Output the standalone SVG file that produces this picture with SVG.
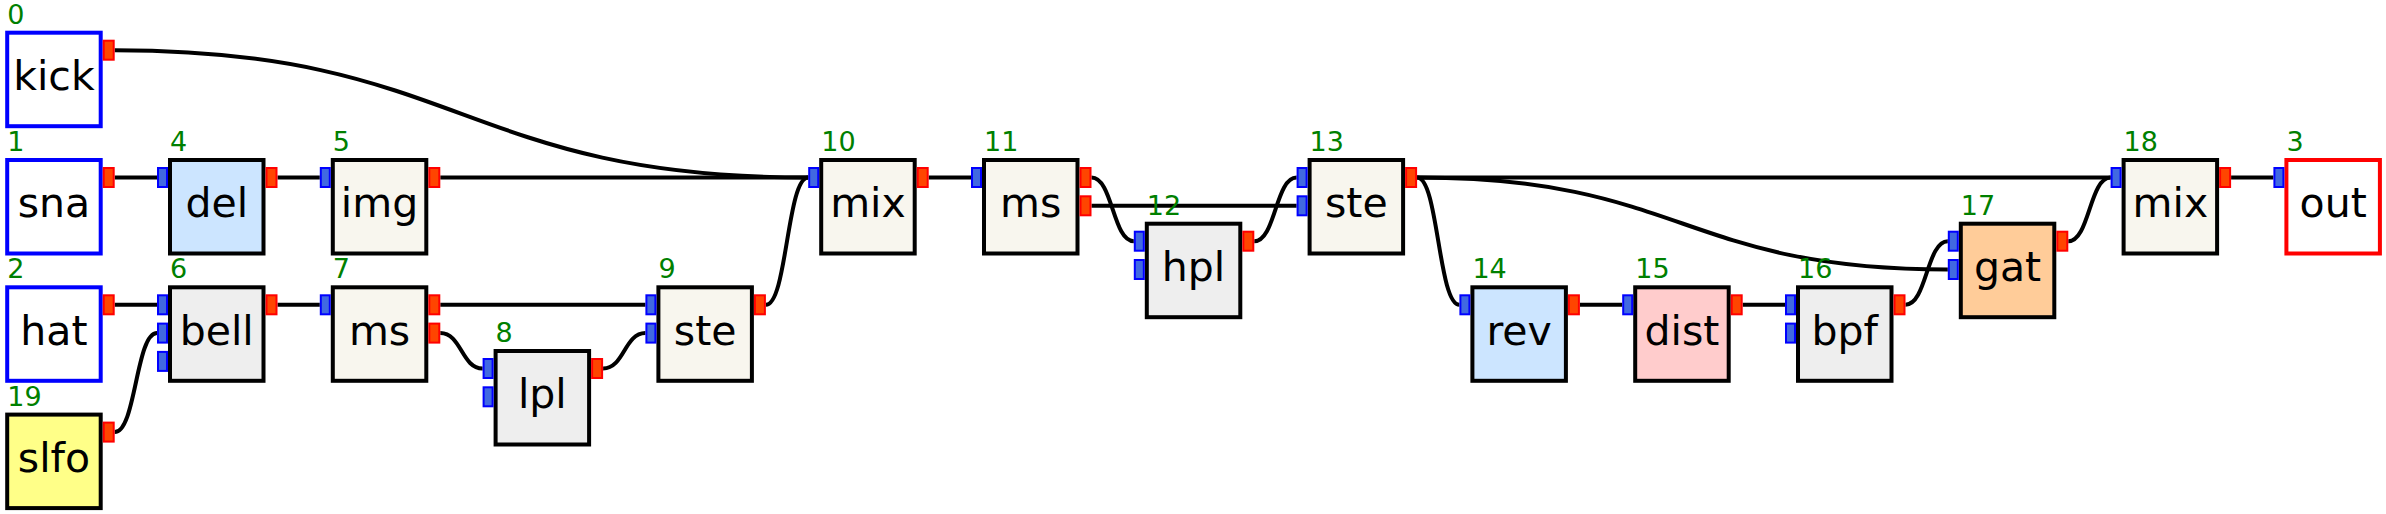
<svg xmlns="http://www.w3.org/2000/svg" width="2386" height="514" viewBox="0 0 2386 514">
<style>
.bg{fill:#ffffff}
.box{stroke:#000000;stroke-width:4}
.src{fill:#ffffff;stroke:#0000ff;stroke-width:4}
.sink{fill:#ffffff;stroke:#ff0000;stroke-width:4}
.beige{fill:#f8f6ee}
.gray{fill:#eeeeee}
.blue{fill:#cce5ff}
.yellow{fill:#ffff88}
.pink{fill:#ffcccc}
.orange{fill:#ffcc99}
.pin{fill:#4169e1;stroke:#0000ff;stroke-width:2}
.pout{fill:#ff4500;stroke:#ff0000;stroke-width:2}
.lbl{font-family:"DejaVu Sans","Liberation Sans",sans-serif;font-size:41px;fill:#000000;text-anchor:middle}
.num{font-family:"DejaVu Sans","Liberation Sans",sans-serif;font-size:27px;fill:#008000}
.wire{fill:none;stroke:#000000;stroke-width:4}
</style>
<rect class="bg" x="0" y="0" width="2386" height="514"/>
<g id="connectors">
<path class="wire" d="M114.7 50.2 C461.5 50.2 461.5 177.5 808.2 177.5"/>
<path class="wire" d="M114.7 177.5 H157"/>
<path class="wire" d="M277.5 177.5 H319.8"/>
<path class="wire" d="M440.3 177.5 H808.2"/>
<path class="wire" d="M114.7 304.8 H157"/>
<path class="wire" d="M114.7 432.1 C135.9 432.1 135.9 333.1 157 333.1"/>
<path class="wire" d="M277.5 304.8 H319.8"/>
<path class="wire" d="M440.3 304.8 H645.4"/>
<path class="wire" d="M440.3 333.1 C461.5 333.1 461.5 368.5 482.6 368.5"/>
<path class="wire" d="M603.1 368.5 C624.3 368.5 624.3 333.1 645.4 333.1"/>
<path class="wire" d="M765.9 304.8 C787 304.8 787 177.5 808.2 177.5"/>
<path class="wire" d="M928.7 177.5 H971"/>
<path class="wire" d="M1091.5 177.5 C1112.7 177.5 1112.7 241.2 1133.8 241.2"/>
<path class="wire" d="M1091.5 205.8 H1296.6"/>
<path class="wire" d="M1254.3 241.2 C1275.5 241.2 1275.5 177.5 1296.6 177.5"/>
<path class="wire" d="M1417.1 177.5 H2110.6"/>
<path class="wire" d="M1417.1 177.5 C1438.3 177.5 1438.3 304.8 1459.4 304.8"/>
<path class="wire" d="M1417.1 177.5 C1682.5 177.5 1682.5 269.5 1947.8 269.5"/>
<path class="wire" d="M1579.9 304.8 H1622.2"/>
<path class="wire" d="M1742.7 304.8 H1785"/>
<path class="wire" d="M1905.5 304.8 C1926.7 304.8 1926.7 241.2 1947.8 241.2"/>
<path class="wire" d="M2068.3 241.2 C2089.5 241.2 2089.5 177.5 2110.6 177.5"/>
<path class="wire" d="M2231.1 177.5 H2273.4"/>
</g>
<g id="n0" transform="translate(5.2,30.7)">
<rect class="src" x="2" y="2" width="93.5" height="93.5"/>
<rect class="pout" x="98.5" y="10" width="10" height="19"/>
<text class="lbl" x="48.75" y="59.3">kick</text>
<text class="num" x="2" y="-7">0</text>
</g>
<g id="n1" transform="translate(5.2,158)">
<rect class="src" x="2" y="2" width="93.5" height="93.5"/>
<rect class="pout" x="98.5" y="10" width="10" height="19"/>
<text class="lbl" x="48.75" y="59.3">sna</text>
<text class="num" x="2" y="-7">1</text>
</g>
<g id="n2" transform="translate(5.2,285.3)">
<rect class="src" x="2" y="2" width="93.5" height="93.5"/>
<rect class="pout" x="98.5" y="10" width="10" height="19"/>
<text class="lbl" x="48.75" y="59.3">hat</text>
<text class="num" x="2" y="-7">2</text>
</g>
<g id="n19" transform="translate(5.2,412.6)">
<rect class="box yellow" x="2" y="2" width="93.5" height="93.5"/>
<rect class="pout" x="98.5" y="10" width="10" height="19"/>
<text class="lbl" x="48.75" y="59.3">slfo</text>
<text class="num" x="2" y="-7">19</text>
</g>
<g id="n4" transform="translate(168,158)">
<rect class="box blue" x="2" y="2" width="93.5" height="93.5"/>
<rect class="pin" x="-10" y="10" width="9" height="19"/>
<rect class="pout" x="98.5" y="10" width="10" height="19"/>
<text class="lbl" x="48.75" y="59.3">del</text>
<text class="num" x="2" y="-7">4</text>
</g>
<g id="n6" transform="translate(168,285.3)">
<rect class="box gray" x="2" y="2" width="93.5" height="93.5"/>
<rect class="pin" x="-10" y="10" width="9" height="19"/>
<rect class="pin" x="-10" y="38.3" width="9" height="19"/>
<rect class="pin" x="-10" y="66.6" width="9" height="19"/>
<rect class="pout" x="98.5" y="10" width="10" height="19"/>
<text class="lbl" x="48.75" y="59.3">bell</text>
<text class="num" x="2" y="-7">6</text>
</g>
<g id="n5" transform="translate(330.8,158)">
<rect class="box beige" x="2" y="2" width="93.5" height="93.5"/>
<rect class="pin" x="-10" y="10" width="9" height="19"/>
<rect class="pout" x="98.5" y="10" width="10" height="19"/>
<text class="lbl" x="48.75" y="59.3">img</text>
<text class="num" x="2" y="-7">5</text>
</g>
<g id="n7" transform="translate(330.8,285.3)">
<rect class="box beige" x="2" y="2" width="93.5" height="93.5"/>
<rect class="pin" x="-10" y="10" width="9" height="19"/>
<rect class="pout" x="98.5" y="10" width="10" height="19"/>
<rect class="pout" x="98.5" y="38.3" width="10" height="19"/>
<text class="lbl" x="48.75" y="59.3">ms</text>
<text class="num" x="2" y="-7">7</text>
</g>
<g id="n8" transform="translate(493.6,349)">
<rect class="box gray" x="2" y="2" width="93.5" height="93.5"/>
<rect class="pin" x="-10" y="10" width="9" height="19"/>
<rect class="pin" x="-10" y="38.3" width="9" height="19"/>
<rect class="pout" x="98.5" y="10" width="10" height="19"/>
<text class="lbl" x="48.75" y="59.3">lpl</text>
<text class="num" x="2" y="-7">8</text>
</g>
<g id="n9" transform="translate(656.4,285.3)">
<rect class="box beige" x="2" y="2" width="93.5" height="93.5"/>
<rect class="pin" x="-10" y="10" width="9" height="19"/>
<rect class="pin" x="-10" y="38.3" width="9" height="19"/>
<rect class="pout" x="98.5" y="10" width="10" height="19"/>
<text class="lbl" x="48.75" y="59.3">ste</text>
<text class="num" x="2" y="-7">9</text>
</g>
<g id="n10" transform="translate(819.2,158)">
<rect class="box beige" x="2" y="2" width="93.5" height="93.5"/>
<rect class="pin" x="-10" y="10" width="9" height="19"/>
<rect class="pout" x="98.5" y="10" width="10" height="19"/>
<text class="lbl" x="48.75" y="59.3">mix</text>
<text class="num" x="2" y="-7">10</text>
</g>
<g id="n11" transform="translate(982,158)">
<rect class="box beige" x="2" y="2" width="93.5" height="93.5"/>
<rect class="pin" x="-10" y="10" width="9" height="19"/>
<rect class="pout" x="98.5" y="10" width="10" height="19"/>
<rect class="pout" x="98.5" y="38.3" width="10" height="19"/>
<text class="lbl" x="48.75" y="59.3">ms</text>
<text class="num" x="2" y="-7">11</text>
</g>
<g id="n12" transform="translate(1144.8,221.7)">
<rect class="box gray" x="2" y="2" width="93.5" height="93.5"/>
<rect class="pin" x="-10" y="10" width="9" height="19"/>
<rect class="pin" x="-10" y="38.3" width="9" height="19"/>
<rect class="pout" x="98.5" y="10" width="10" height="19"/>
<text class="lbl" x="48.75" y="59.3">hpl</text>
<text class="num" x="2" y="-7">12</text>
</g>
<g id="n13" transform="translate(1307.6,158)">
<rect class="box beige" x="2" y="2" width="93.5" height="93.5"/>
<rect class="pin" x="-10" y="10" width="9" height="19"/>
<rect class="pin" x="-10" y="38.3" width="9" height="19"/>
<rect class="pout" x="98.5" y="10" width="10" height="19"/>
<text class="lbl" x="48.75" y="59.3">ste</text>
<text class="num" x="2" y="-7">13</text>
</g>
<g id="n14" transform="translate(1470.4,285.3)">
<rect class="box blue" x="2" y="2" width="93.5" height="93.5"/>
<rect class="pin" x="-10" y="10" width="9" height="19"/>
<rect class="pout" x="98.5" y="10" width="10" height="19"/>
<text class="lbl" x="48.75" y="59.3">rev</text>
<text class="num" x="2" y="-7">14</text>
</g>
<g id="n15" transform="translate(1633.2,285.3)">
<rect class="box pink" x="2" y="2" width="93.5" height="93.5"/>
<rect class="pin" x="-10" y="10" width="9" height="19"/>
<rect class="pout" x="98.5" y="10" width="10" height="19"/>
<text class="lbl" x="48.75" y="59.3">dist</text>
<text class="num" x="2" y="-7">15</text>
</g>
<g id="n16" transform="translate(1796,285.3)">
<rect class="box gray" x="2" y="2" width="93.5" height="93.5"/>
<rect class="pin" x="-10" y="10" width="9" height="19"/>
<rect class="pin" x="-10" y="38.3" width="9" height="19"/>
<rect class="pout" x="98.5" y="10" width="10" height="19"/>
<text class="lbl" x="48.75" y="59.3">bpf</text>
<text class="num" x="2" y="-7">16</text>
</g>
<g id="n17" transform="translate(1958.8,221.7)">
<rect class="box orange" x="2" y="2" width="93.5" height="93.5"/>
<rect class="pin" x="-10" y="10" width="9" height="19"/>
<rect class="pin" x="-10" y="38.3" width="9" height="19"/>
<rect class="pout" x="98.5" y="10" width="10" height="19"/>
<text class="lbl" x="48.75" y="59.3">gat</text>
<text class="num" x="2" y="-7">17</text>
</g>
<g id="n18" transform="translate(2121.6,158)">
<rect class="box beige" x="2" y="2" width="93.5" height="93.5"/>
<rect class="pin" x="-10" y="10" width="9" height="19"/>
<rect class="pout" x="98.5" y="10" width="10" height="19"/>
<text class="lbl" x="48.75" y="59.3">mix</text>
<text class="num" x="2" y="-7">18</text>
</g>
<g id="n3" transform="translate(2284.4,158)">
<rect class="sink" x="2" y="2" width="93.5" height="93.5"/>
<rect class="pin" x="-10" y="10" width="9" height="19"/>
<text class="lbl" x="48.75" y="59.3">out</text>
<text class="num" x="2" y="-7">3</text>
</g>
</svg>
